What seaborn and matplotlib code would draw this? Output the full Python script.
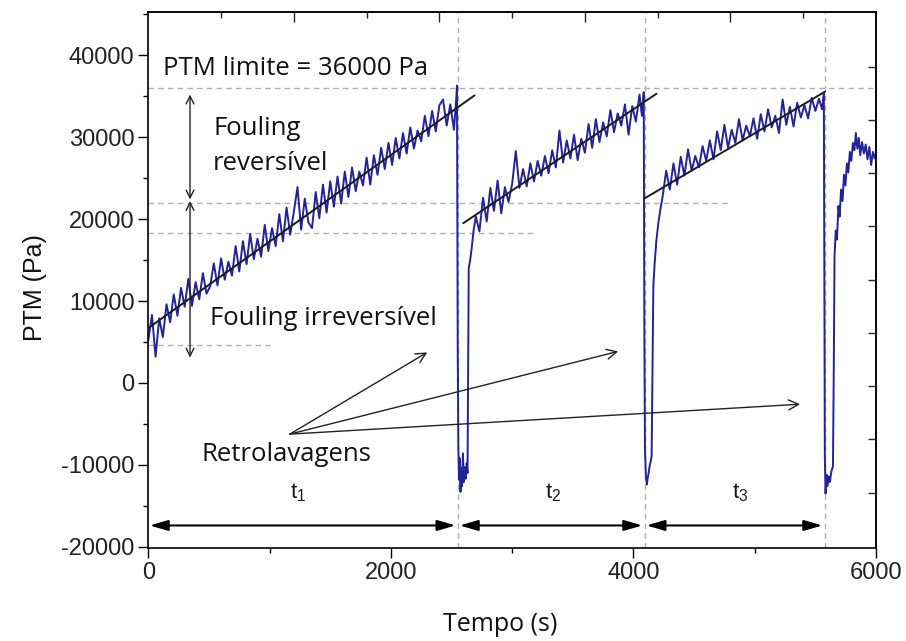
import matplotlib
matplotlib.use("Agg")
import matplotlib.pyplot as plt
import seaborn as sns
import pandas as pd
from matplotlib.ticker import MultipleLocator

# --- data (Tempo in s, PTM in Pa) ---
t_cycle1 = [0, 30, 60, 90, 120, 150, 180, 210, 240, 270, 300, 330, 360, 390, 420,
            450, 480, 510, 540, 570, 600, 630, 660, 690, 720, 750, 780, 810, 840,
            870, 900, 930, 960, 990, 1020, 1050, 1080, 1110, 1140, 1170, 1200, 1230,
            1260, 1290, 1320, 1350, 1380, 1410, 1440, 1470, 1500, 1530, 1560, 1590,
            1620, 1650, 1680, 1710, 1740, 1770, 1800, 1830, 1860, 1890, 1920, 1950,
            1980, 2010, 2040, 2070, 2100, 2130, 2160, 2190, 2220, 2250, 2280, 2310,
            2340, 2370, 2400, 2430, 2460, 2490, 2520, 2540, 2545]
p_cycle1 = [5200, 8300, 3200, 7900, 5600, 9600, 7400, 10800, 8200, 11600, 9300,
            12700, 9400, 12300, 10200, 13400, 10900, 11800, 14600, 11900, 15200,
            12600, 14800, 13100, 16700, 13600, 17300, 14500, 18200, 15100, 17600,
            15400, 19300, 16100, 18900, 16700, 20600, 17300, 21400, 18100, 20900,
            23900, 18700, 22500, 19600, 18900, 23300, 20100, 24200, 20800, 24600,
            21500, 25200, 21900, 25800, 22700, 26300, 23400, 25800, 24100, 27500,
            24200, 27800, 25400, 28700, 26100, 29300, 26600, 29900, 27400, 30500,
            28000, 31200, 28600, 30800, 29500, 32600, 30100, 33200, 30700, 33900,
            34600, 31400, 34000, 30900, 34900, 36300]

t_wash1 = [2551, 2556, 2562, 2568, 2574, 2580, 2587, 2594, 2601, 2609, 2617, 2625,
           2632, 2637, 2642, 2652, 2666, 2682]
p_wash1 = [5000, -7500, -11800, -9200, -13300, -10400, -12600, -8600, -12100,
           -10300, -11700, -9800, -11000, 1500, 14000, 14800, 16400, 18600]

t_cycle2 = [2700, 2730, 2760, 2790, 2820, 2850, 2880, 2910, 2940, 2970, 3000, 3030,
            3060, 3090, 3120, 3150, 3180, 3210, 3240, 3270, 3300, 3330, 3360, 3390,
            3420, 3450, 3480, 3510, 3540, 3570, 3600, 3630, 3660, 3690, 3720, 3750,
            3780, 3810, 3840, 3870, 3900, 3930, 3960, 3990, 4020, 4050, 4070, 4085]
p_cycle2 = [20300, 18500, 22600, 19700, 23800, 21000, 24700, 20700, 23900, 22100,
            24300, 28300, 23800, 26100, 24000, 26800, 24600, 27100, 25300, 27700,
            25600, 28400, 26300, 30800, 26900, 29600, 27400, 30300, 27200, 29800,
            28100, 31600, 28700, 32200, 29400, 31800, 30100, 33300, 30600, 32900,
            31400, 34000, 30300, 33800, 31900, 35200, 32600, 35500]

t_wash2 = [4090, 4095, 4102, 4110, 4118, 4126, 4134, 4142, 4150, 4157, 4164, 4175,
           4188, 4205, 4220]
p_wash2 = [6000, -8000, -11200, -12400, -11600, -10900, -10100, -9600, -8900, 1500,
           11800, 14600, 17200, 19500, 21000]

t_cycle3 = [4240, 4270, 4300, 4330, 4360, 4390, 4420, 4450, 4480, 4510, 4540, 4570,
            4600, 4630, 4660, 4690, 4720, 4750, 4780, 4810, 4840, 4870, 4900, 4930,
            4960, 4990, 5020, 5050, 5080, 5110, 5140, 5170, 5200, 5230, 5260, 5290,
            5320, 5350, 5380, 5410, 5440, 5470, 5500, 5530, 5555, 5570]
p_cycle3 = [22700, 25900, 23600, 26800, 24200, 27600, 25300, 28500, 25900, 27700,
            26300, 28900, 27100, 29600, 27300, 30700, 28400, 31500, 28700, 30900,
            29300, 32200, 29600, 31400, 30100, 32300, 29800, 32800, 30700, 33400,
            31200, 32600, 30500, 34600, 31500, 33700, 31300, 34200, 32400, 33900,
            32300, 34800, 33200, 34700, 33400, 35300]

t_wash3 = [5575, 5578, 5584, 5592, 5600, 5610, 5620, 5632, 5645]
p_wash3 = [8000, -9000, -13500, -11200, -12600, -11400, -12100, -10800, -10200]

t_cycle4 = [5652, 5658, 5668, 5678, 5690, 5700, 5712, 5724, 5736, 5748, 5760, 5772,
            5784, 5796, 5810, 5822, 5834, 5846, 5858, 5870, 5885, 5900, 5915, 5930,
            5945, 5960, 5975, 5990, 6000]
p_cycle4 = [2000, 15500, 18600, 17500, 21600, 20300, 23600, 22200, 25400, 24100,
            26800, 25700, 28200, 27100, 29300, 28400, 30500, 28600, 29900, 27800,
            29400, 28000, 29100, 27300, 28800, 26600, 28200, 27400, 28100]

# linear fits drawn over each filtration cycle
fit_t = [[0, 2690], [2597, 4190], [4096, 5580]]
fit_p = [[6700, 35100], [19500, 35300], [22560, 35560]]

# grey dashed reference levels: level, start, end
ref_level = [36000, 22000, 18350, 4600]
ref_start = [0, 0, 0, 0]
ref_end = [6000, 4800, 3200, 1000]

# backwash instants (vertical dashed lines)
wash_times = [2556, 4096, 5580]
period_labels = ["t$_1$", "t$_2$", "t$_3$"]

# retrolavagem arrows: origin and targets
retro_origin = (1167, -6250)
retro_targets = [(2300, 3730), (3874, 3850), (5374, -2600)]

top_major = [1200, 2400, 3600, 4800]
top_minor = [600, 1800, 3000, 4200, 5400]
right_ticks = [-13400, -6900, -400, 6100, 12600, 19100, 25600, 32100, 38600]

sns.set_theme(style="ticks")
plt.rcParams["font.family"] = ["Liberation Sans", "DejaVu Sans"]
plt.rcParams["mathtext.default"] = "regular"
plt.rcParams["axes.unicode_minus"] = False

fig = plt.figure(figsize=(9.06, 6.41), dpi=100)
ax = fig.add_axes([0.1637, 0.1451, 0.8032, 0.8362])

t_all = t_cycle1 + t_wash1 + t_cycle2 + t_wash2 + t_cycle3 + t_wash3 + t_cycle4
p_all = p_cycle1 + p_wash1 + p_cycle2 + p_wash2 + p_cycle3 + p_wash3 + p_cycle4
df = pd.DataFrame({"Tempo": t_all, "PTM": p_all})

ylo, yhi = -20150, 45280

# reference dashed lines
dash = (0, (4, 3))
ax.hlines(ref_level, ref_start, ref_end, colors="#b0b0b0", linestyles=dash, lw=1, zorder=1)
ax.vlines(wash_times, ylo, yhi, colors="#b0b0b0", linestyles=dash, lw=1, zorder=1)

sns.lineplot(data=df, x="Tempo", y="PTM", sort=False, estimator=None,
             color="#22229c", lw=1.4, ax=ax, zorder=2)

for ft, fp in zip(fit_t, fit_p):
    sns.lineplot(x=ft, y=fp, color="#1a1a1a", lw=1.4, ax=ax, zorder=3)

ax.set_xlim(0, 6000)
ax.set_ylim(ylo, yhi)

# ticks
ax.xaxis.set_major_locator(MultipleLocator(2000))
ax.xaxis.set_minor_locator(MultipleLocator(1000))
ax.yaxis.set_major_locator(MultipleLocator(10000))
ax.yaxis.set_minor_locator(MultipleLocator(5000))
ax.tick_params(which="major", direction="out", length=7, width=1, colors="black",
               labelsize=17, labelcolor="#222222", pad=3)
ax.tick_params(which="minor", direction="out", length=3.5, width=1, colors="black")
for s in ax.spines.values():
    s.set_color("black")
    s.set_linewidth(1.2)

secx = ax.secondary_xaxis("top")
secx.set_xticks(top_major)
secx.set_xticks(top_minor, minor=True)
secx.tick_params(which="major", direction="in", length=7, width=1, labeltop=False)
secx.tick_params(which="minor", direction="in", length=4, width=1)
secy = ax.secondary_yaxis("right")
secy.set_yticks(right_ticks)
secy.tick_params(direction="in", length=6, width=1, labelright=False)

ax.set_xlabel("Tempo (s)", fontsize=18, family="Open Sans", color="#111111")
ax.set_ylabel("PTM (Pa)", fontsize=18, color="#111111")
ax.xaxis.set_label_coords(0.483, -0.119)
ax.yaxis.set_label_coords(-0.139, 0.485)

# annotations
txt = dict(family="Open Sans", fontsize=18.5, color="#111111", va="baseline", ha="left")
ax.text(121, 37600, "PTM limite = 36000 Pa", **txt)
ax.text(535, 30300, "Fouling", **txt)
ax.text(535, 26000, "reversível", **txt)
ax.text(510, 7110, "Fouling irreversível", **txt)
ax.text(440, -9560, "Retrolavagens", **txt)

thin = dict(arrowstyle="<->", color="#222222", lw=1.0, shrinkA=0, shrinkB=0,
            mutation_scale=14)
ax.annotate("", xy=(344, 35200), xytext=(344, 22400), arrowprops=thin)
ax.annotate("", xy=(344, 3100), xytext=(344, 22200), arrowprops=thin)

for tx, ty in retro_targets:
    ax.annotate("", xy=(tx, ty), xytext=retro_origin,
                arrowprops=dict(arrowstyle="->", color="#222222", lw=1.0,
                                shrinkA=0, shrinkB=0, mutation_scale=18))

# cycle duration arrows
bounds = [0] + wash_times
for i, lab in enumerate(period_labels):
    ax.annotate("", xy=(bounds[i + 1], -17400), xytext=(bounds[i], -17400),
                arrowprops=dict(arrowstyle="<|-|>,head_length=1.1,head_width=0.32",
                                color="black", lw=1.5, shrinkA=1, shrinkB=2,
                                mutation_scale=10))
label_x = [1236, 3337, 4878]
for lx, lab in zip(label_x, period_labels):
    ax.text(lx, -13400, lab, fontsize=16, ha="center", va="center", color="#1a1a1a")

fig.savefig("out.png", dpi=100)
